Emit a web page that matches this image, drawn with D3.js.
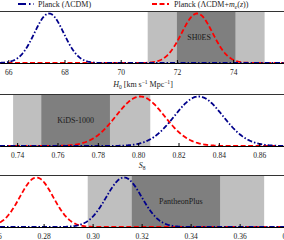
<!DOCTYPE html>
<html>
<head>
<meta charset="utf-8">
<script src="https://cdn.jsdelivr.net/npm/d3@7"></script>
<style>
  body { margin: 0; background: #fff; }
  svg { display: block; font-family: "Liberation Serif", "DejaVu Serif", serif; }
</style>
</head>
<body>
<div id="chart"></div>
<script>
// posterior summaries (mean, sigma) for each parameter
const params = ["H0", "S8", "Om"];
const planckMean = [67.45, 0.830, 0.3128];
const planckSigma = [0.52, 0.012, 0.0072];
const meMean = [72.72, 0.801, 0.2771];
const meSigma = [0.55, 0.012, 0.0068];

// external probes: mean, lower / upper 1-sigma errors
const probeNames = ["SH0ES", "KiDS-1000", "PantheonPlus"];
const probeMean = [73.04, 0.766, 0.334];
const probeErrLo = [1.04, 0.014, 0.018];
const probeErrHi = [1.04, 0.020, 0.018];
const probeLabelAt = [72.79, 0.769, 0.336];

const xDomains = [[65.705, 75.81], [0.7315, 0.8723], [0.2622, 0.3781]];
const tickValues = [
    [66, 68, 70, 72, 74],
    [0.74, 0.76, 0.78, 0.80, 0.82, 0.84, 0.86],
    [0.26, 0.28, 0.30, 0.32, 0.34, 0.36, 0.38]
];
const tickFormats = ["d", ".2f", ".2f"];

const width = 284, height = 240;
const panelTop = [11, 94, 175];
const panelH = 52;

const svg = d3.select('#chart').append('svg')
    .attr('width', width)
    .attr('height', height);

const gauss = (x, m, s) => Math.exp(-0.5 * ((x - m) / s) ** 2);

params.forEach((p, i) => {
    const x = d3.scaleLinear().domain(xDomains[i]).range([0, width]);
    const y = d3.scaleLinear().domain([0, 1.05]).range([panelTop[i] + panelH, panelTop[i]]);
    const g = svg.append('g');

    // probe bands: 2 sigma light, 1 sigma dark
    const m = probeMean[i], lo = probeErrLo[i], hi = probeErrHi[i];
    g.append('rect')
        .attr('x', x(m - 2 * lo))
        .attr('width', x(m + 2 * hi) - x(m - 2 * lo))
        .attr('y', panelTop[i]).attr('height', panelH)
        .attr('fill', '#bfbfbf');
    g.append('rect')
        .attr('x', x(m - lo))
        .attr('width', x(m + hi) - x(m - lo))
        .attr('y', panelTop[i]).attr('height', panelH)
        .attr('fill', '#7f7f7f');
    g.append('text')
        .attr('x', x(probeLabelAt[i]))
        .attr('y', panelTop[i] + panelH / 2 + 3)
        .attr('text-anchor', 'middle')
        .attr('font-size', 8)
        .attr('fill', '#1a1a1a')
        .text(probeNames[i]);

    // curves
    const xs = d3.range(0, 401).map(k => xDomains[i][0] + (xDomains[i][1] - xDomains[i][0]) * k / 400);
    const line = d3.line().x(d => x(d[0])).y(d => y(d[1]));
    g.append('path')
        .datum(xs.map(v => [v, gauss(v, meMean[i], meSigma[i])]))
        .attr('d', line)
        .attr('fill', 'none')
        .attr('stroke', '#ff0000')
        .attr('stroke-width', 1.8)
        .attr('stroke-dasharray', '5,2.5');
    g.append('path')
        .datum(xs.map(v => [v, gauss(v, planckMean[i], planckSigma[i])]))
        .attr('d', line)
        .attr('fill', 'none')
        .attr('stroke', '#00008b')
        .attr('stroke-width', 1.8)
        .attr('stroke-dasharray', '5,2,1.5,2');

    // frame top
    g.append('line')
        .attr('x1', 0).attr('x2', width)
        .attr('y1', panelTop[i] + 0.5).attr('y2', panelTop[i] + 0.5)
        .attr('stroke', '#333').attr('stroke-width', 1);

    // axis
    const ax = g.append('g')
        .attr('transform', `translate(0,${panelTop[i] + panelH})`)
        .call(d3.axisBottom(x)
            .tickValues(tickValues[i])
            .tickFormat(d3.format(tickFormats[i]))
            .tickSizeInner(-3)
            .tickSizeOuter(0)
            .tickPadding(7));
    ax.select('.domain').attr('stroke', '#000').attr('stroke-width', 1.2);
    ax.selectAll('.tick line').attr('stroke', '#000');
    ax.selectAll('.tick text')
        .attr('font-family', '"Liberation Serif", serif')
        .attr('font-size', 7.5)
        .attr('fill', '#222');
});

// axis titles
const t1 = svg.append('text')
    .attr('x', 143).attr('y', 87)
    .attr('text-anchor', 'middle')
    .attr('font-size', 8)
    .attr('fill', '#222');
t1.append('tspan').attr('font-style', 'italic').text('H');
t1.append('tspan').attr('font-size', 5.5).attr('dy', 1.5).text('0');
t1.append('tspan').attr('dy', -1.5).text(' [km s');
t1.append('tspan').attr('font-size', 5.5).attr('dy', -3).text('−1');
t1.append('tspan').attr('dy', 3).text(' Mpc');
t1.append('tspan').attr('font-size', 5.5).attr('dy', -3).text('−1');
t1.append('tspan').attr('dy', 3).text(']');

const t2 = svg.append('text')
    .attr('x', 142).attr('y', 168)
    .attr('text-anchor', 'middle')
    .attr('font-size', 8)
    .attr('fill', '#222');
t2.append('tspan').attr('font-style', 'italic').text('S');
t2.append('tspan').attr('font-size', 5.5).attr('dy', 1.5).text('8');

// legend
const legend = svg.append('g');
legend.append('line')
    .attr('x1', 18).attr('x2', 34).attr('y1', 4).attr('y2', 4)
    .attr('stroke', '#00008b').attr('stroke-width', 1.8)
    .attr('stroke-dasharray', '8,3,1.5,3');
legend.append('text')
    .attr('x', 38).attr('y', 7)
    .attr('font-size', 8).attr('fill', '#222')
    .text('Planck (ΛCDM)');
legend.append('line')
    .attr('x1', 152).attr('x2', 169).attr('y1', 4).attr('y2', 4)
    .attr('stroke', '#ff0000').attr('stroke-width', 1.8)
    .attr('stroke-dasharray', '5,2.5');
const lt = legend.append('text')
    .attr('x', 174).attr('y', 7)
    .attr('font-size', 8).attr('fill', '#222');
lt.append('tspan').text('Planck (ΛCDM+');
lt.append('tspan').attr('font-style', 'italic').text('m');
lt.append('tspan').attr('font-style', 'italic').attr('font-size', 5.5).attr('dy', 1.5).text('e');
lt.append('tspan').attr('dy', -1.5).text('(');
lt.append('tspan').attr('font-style', 'italic').text('z');
lt.append('tspan').text('))');
</script>
</body>
</html>
